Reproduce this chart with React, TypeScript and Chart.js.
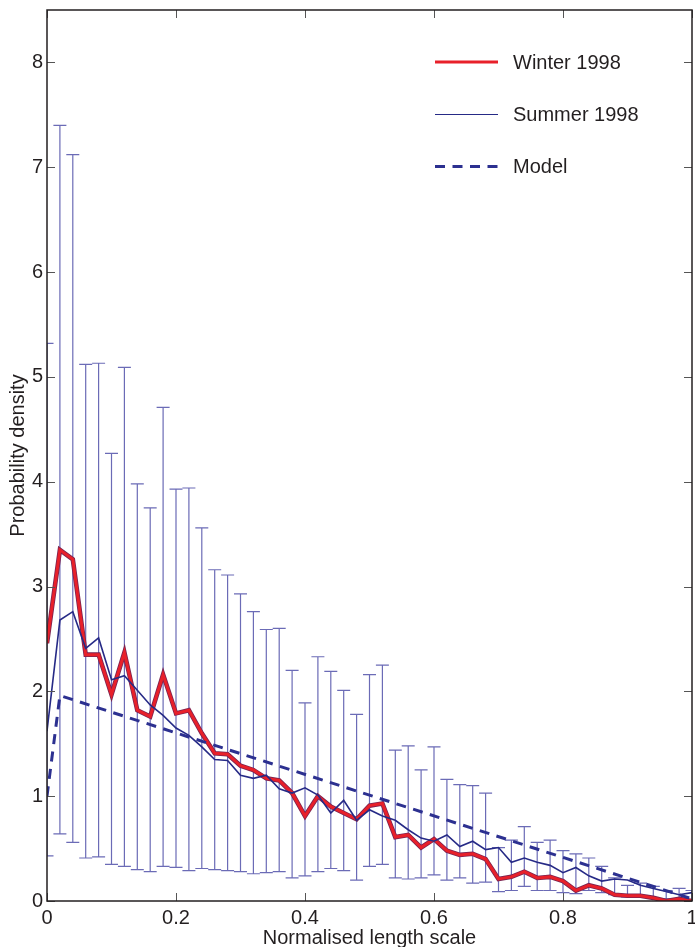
import React, { useEffect, useRef } from 'react';
import { Chart, registerables } from 'chart.js';

Chart.register(...registerables);

// ---------- data ----------
const X = [
  0, 0.02, 0.04, 0.06, 0.08, 0.1, 0.12, 0.14, 0.16, 0.18,
  0.2, 0.22, 0.24, 0.26, 0.28, 0.3, 0.32, 0.34, 0.36, 0.38,
  0.4, 0.42, 0.44, 0.46, 0.48, 0.5, 0.52, 0.54, 0.56, 0.58,
  0.6, 0.62, 0.64, 0.66, 0.68, 0.7, 0.72, 0.74, 0.76, 0.78,
  0.8, 0.82, 0.84, 0.86, 0.88, 0.9, 0.92, 0.94, 0.96, 0.98,
  1.0,
];

const WINTER = [
  2.46, 3.35, 3.26, 2.35, 2.35, 1.97, 2.37, 1.82, 1.76, 2.16,
  1.79, 1.82, 1.60, 1.41, 1.40, 1.29, 1.25, 1.17, 1.15, 1.03,
  0.81, 1.00, 0.90, 0.84, 0.78, 0.91, 0.93, 0.61, 0.63, 0.51,
  0.59, 0.48, 0.44, 0.45, 0.40, 0.21, 0.23, 0.28, 0.22, 0.23,
  0.19, 0.10, 0.15, 0.12, 0.06, 0.05, 0.05, 0.03, 0.00, 0.02,
  0.00,
];

const SUMMER = [
  1.62, 2.68, 2.76, 2.41, 2.51, 2.11, 2.15, 2.01, 1.87, 1.77,
  1.65, 1.58, 1.47, 1.35, 1.34, 1.20, 1.17, 1.20, 1.07, 1.03,
  1.08, 1.01, 0.84, 0.96, 0.77, 0.87, 0.81, 0.77, 0.68, 0.60,
  0.57, 0.63, 0.52, 0.57, 0.49, 0.51, 0.37, 0.41, 0.37, 0.34,
  0.27, 0.32, 0.24, 0.19, 0.21, 0.20, 0.15, 0.12, 0.09, 0.06,
  0.08,
];

const ERR_UPPER = [
  5.32, 7.40, 7.12, 5.12, 5.13, 4.27, 5.09, 3.98, 3.75, 4.71,
  3.93, 3.94, 3.56, 3.16, 3.11, 2.93, 2.76, 2.59, 2.60, 2.20,
  1.89, 2.33, 2.19, 2.01, 1.78, 2.16, 2.25, 1.44, 1.48, 1.25,
  1.47, 1.16, 1.11, 1.10, 1.03, 0.51, 0.58, 0.71, 0.56, 0.58,
  0.48, 0.45, 0.41, 0.33, 0.22, 0.15, 0.17, 0.14, 0.10, 0.12,
  0.10,
];

const ERR_LOWER = [
  0.43, 0.64, 0.56, 0.41, 0.42, 0.35, 0.33, 0.30, 0.28, 0.33,
  0.32, 0.29, 0.31, 0.30, 0.29, 0.28, 0.26, 0.27, 0.28, 0.22,
  0.24, 0.28, 0.31, 0.29, 0.20, 0.33, 0.35, 0.22, 0.21, 0.22,
  0.25, 0.20, 0.22, 0.17, 0.18, 0.09, 0.10, 0.14, 0.10, 0.10,
  0.08, 0.07, 0.10, 0.08, 0.06, 0.04, 0.04, 0.03, 0.02, 0.02,
  0.00,
];

const MODEL_X = [0, 0.02, 1.0];
const MODEL_Y = [1.0, 1.96, 0.02];

const X_TICKS = [0, 0.2, 0.4, 0.6, 0.8, 1];
const X_TICK_LABELS = ['0', '0.2', '0.4', '0.6', '0.8', '1'];
const Y_TICKS = [0, 1, 2, 3, 4, 5, 6, 7, 8];
const Y_TICK_LABELS = ['0', '1', '2', '3', '4', '5', '6', '7', '8'];

const LEGEND_LABELS = ['Winter 1998', 'Summer 1998', 'Model'];

// ---------- styles ----------
const TEXT = '#231f20';
const RED = '#e8202a';
const RED_EDGE = '#7a2350';
const NAVY = '#262a86';
const MODEL_COLOR = '#2c3090';
const ERR_COLOR = '#6b6bb6';
const FONT = "'Liberation Sans', Arial, Helvetica, sans-serif";

const pts = (xs: number[], ys: number[]) => xs.map((x, i) => ({ x, y: ys[i] }));

const errorBarPlugin = {
  id: 'errorBars',
  beforeDatasetsDraw(chart: any) {
    const { ctx, chartArea, scales } = chart;
    const xs = scales.x;
    const ys = scales.y;
    ctx.save();
    ctx.beginPath();
    ctx.rect(chartArea.left, chartArea.top, chartArea.right - chartArea.left, chartArea.bottom - chartArea.top);
    ctx.clip();
    ctx.strokeStyle = ERR_COLOR;
    ctx.lineWidth = 1.2;
    const cap = 6.5;
    X.forEach((xv, i) => {
      const px = xs.getPixelForValue(xv);
      const top = ys.getPixelForValue(ERR_UPPER[i]);
      const bot = ys.getPixelForValue(ERR_LOWER[i]);
      ctx.beginPath();
      ctx.moveTo(px, top);
      ctx.lineTo(px, bot);
      ctx.moveTo(px - cap, top);
      ctx.lineTo(px + cap, top);
      ctx.moveTo(px - cap, bot);
      ctx.lineTo(px + cap, bot);
      ctx.stroke();
    });
    ctx.restore();
  },
};

const framePlugin = {
  id: 'frame',
  afterDraw(chart: any) {
    const { ctx, chartArea: a, scales } = chart;
    const xs = scales.x;
    const ys = scales.y;
    ctx.save();
    ctx.strokeStyle = '#555';
    ctx.lineWidth = 1;
    const tl = 8;
    X_TICKS.forEach((v) => {
      const px = Math.round(xs.getPixelForValue(v)) + 0.5;
      ctx.beginPath();
      ctx.moveTo(px, a.bottom);
      ctx.lineTo(px, a.bottom - tl);
      ctx.moveTo(px, a.top);
      ctx.lineTo(px, a.top + tl);
      ctx.stroke();
    });
    Y_TICKS.forEach((v) => {
      const py = Math.round(ys.getPixelForValue(v)) + 0.5;
      ctx.beginPath();
      ctx.moveTo(a.left, py);
      ctx.lineTo(a.left + tl, py);
      ctx.moveTo(a.right, py);
      ctx.lineTo(a.right - tl, py);
      ctx.stroke();
    });
    ctx.strokeStyle = TEXT;
    ctx.lineWidth = 1.5;
    ctx.strokeRect(a.left, a.top, a.right - a.left, a.bottom - a.top);

    // legend
    const rows = [62, 114.5, 166.5];
    const x0 = 435;
    const x1 = 498;
    ctx.font = `20px ${FONT}`;
    ctx.fillStyle = TEXT;
    ctx.textBaseline = 'middle';
    ctx.textAlign = 'left';
    LEGEND_LABELS.forEach((lab, i) => {
      const y = rows[i];
      ctx.beginPath();
      if (i === 0) {
        ctx.strokeStyle = RED;
        ctx.lineWidth = 3;
        ctx.setLineDash([]);
      } else if (i === 1) {
        ctx.strokeStyle = NAVY;
        ctx.lineWidth = 1;
        ctx.setLineDash([]);
      } else {
        ctx.strokeStyle = MODEL_COLOR;
        ctx.lineWidth = 3;
        ctx.setLineDash([10, 7.5]);
      }
      ctx.moveTo(x0, y);
      ctx.lineTo(x1, y);
      ctx.stroke();
      ctx.setLineDash([]);
      ctx.fillText(lab, 513, y + 1);
    });
    ctx.restore();
  },
};

export default function App() {
  const ref = useRef<HTMLCanvasElement>(null);
  useEffect(() => {
    document.body.style.margin = '0';
    Chart.defaults.font.family = FONT;
    const canvas = ref.current;
    if (!canvas) return;
    const chart = new Chart(canvas, {
      type: 'line',
      data: {
        datasets: [
          {
            label: 'Model',
            data: pts(MODEL_X, MODEL_Y),
            borderColor: MODEL_COLOR,
            borderWidth: 3,
            borderDash: [10, 7.5],
            pointRadius: 0,
            fill: false,
            tension: 0,
          },
          {
            label: 'Summer 1998',
            data: pts(X, SUMMER),
            borderColor: NAVY,
            borderWidth: 1.6,
            pointRadius: 0,
            fill: false,
            tension: 0,
          },
          {
            label: 'Winter 1998',
            data: pts(X, WINTER),
            borderColor: RED,
            borderWidth: 3,
            pointRadius: 0,
            fill: false,
            tension: 0,
          },
          {
            label: 'Winter 1998 edge',
            data: pts(X, WINTER),
            borderColor: RED_EDGE,
            borderWidth: 4.6,
            pointRadius: 0,
            fill: false,
            tension: 0,
          },
        ],
      },
      options: {
        responsive: false,
        animation: false,
        devicePixelRatio: 1,
        layout: { padding: { top: 10, right: 3, left: 0, bottom: 0 } },
        plugins: {
          legend: { display: false },
          tooltip: { enabled: false },
        },
        scales: {
          x: {
            type: 'linear',
            min: 0,
            max: 1,
            grid: { display: false, drawTicks: false },
            border: { display: false },
            afterBuildTicks: (s: any) => {
              s.ticks = X_TICKS.map((v) => ({ value: v }));
            },
            ticks: {
              padding: 5,
              color: TEXT,
              font: { size: 20 },
              maxRotation: 0,
              autoSkip: false,
              callback: (_v: any, i: number) => X_TICK_LABELS[i],
            },
            title: {
              display: true,
              text: 'Normalised length scale',
              color: TEXT,
              font: { size: 20 },
              padding: { top: 0, bottom: -3 },
            },
            afterFit: (s: any) => {
              s.height = 46;
              s.paddingLeft = 0;
              s.paddingRight = 0;
            },
          },
          y: {
            type: 'linear',
            min: 0,
            max: 8.5,
            grid: { display: false, drawTicks: false },
            border: { display: false },
            afterBuildTicks: (s: any) => {
              s.ticks = Y_TICKS.map((v) => ({ value: v }));
            },
            ticks: {
              padding: 4,
              color: TEXT,
              font: { size: 20 },
              autoSkip: false,
              callback: (_v: any, i: number) => Y_TICK_LABELS[i],
            },
            title: {
              display: true,
              text: 'Probability density',
              color: TEXT,
              font: { size: 20 },
              padding: { top: 6, bottom: 0 },
            },
            afterFit: (s: any) => {
              s.width = 47;
              s.paddingTop = 0;
              s.paddingBottom = 0;
            },
          },
        },
      },
      plugins: [errorBarPlugin, framePlugin],
    } as any);
    return () => chart.destroy();
  }, []);
  return (
    <div style={{ width: 695, height: 947 }}>
      <canvas ref={ref} width={695} height={947} style={{ display: 'block' }} />
    </div>
  );
}
